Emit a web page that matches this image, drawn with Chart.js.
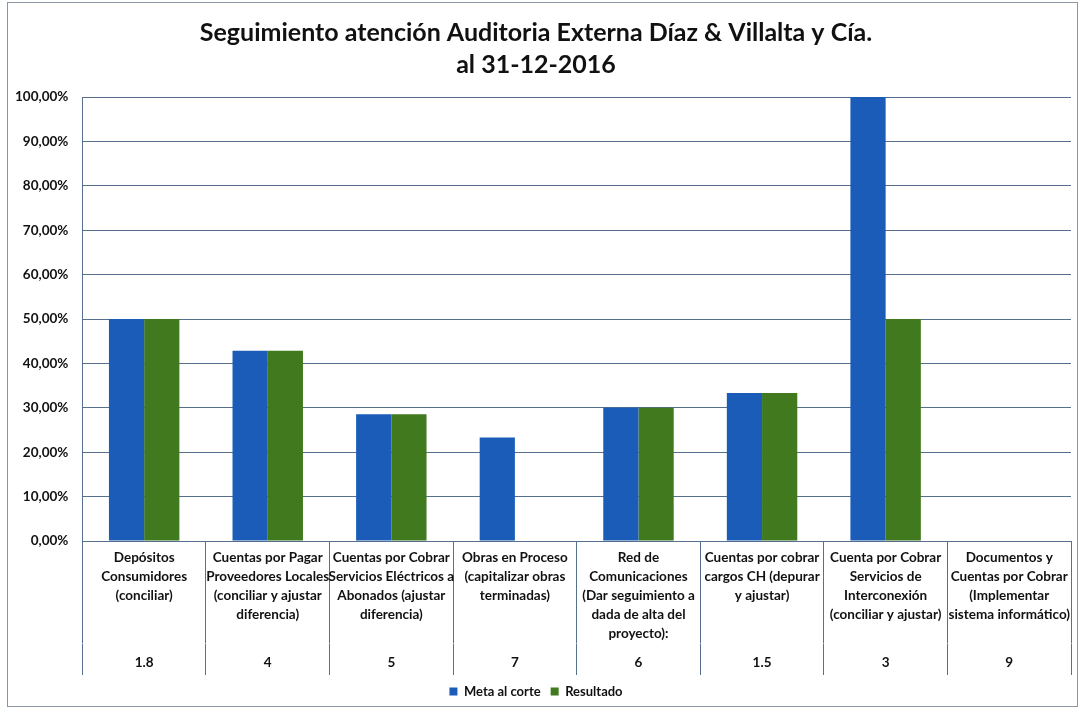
<!DOCTYPE html>
<html>
<head>
<meta charset="utf-8">
<script src="https://cdn.jsdelivr.net/npm/chart.js@4"></script>
<style>
  html, body { margin: 0; padding: 0; background: #fff; }
  #wrap { width: 1081px; height: 709px; }
</style>
</head>
<body>
<div id="wrap"><canvas id="chartCanvas" width="1081" height="709"></canvas></div>
<script>
const titleLines = ['Seguimiento atención Auditoria Externa Díaz & Villalta y Cía.', 'al 31-12-2016'];

const categories = [
    ['Depósitos', 'Consumidores', '(conciliar)'],
    ['Cuentas por Pagar', 'Proveedores Locales', '(conciliar y ajustar', 'diferencia)'],
    ['Cuentas por Cobrar', 'Servicios Eléctricos a', 'Abonados (ajustar', 'diferencia)'],
    ['Obras en Proceso', '(capitalizar obras', 'terminadas)'],
    ['Red de', 'Comunicaciones', '(Dar seguimiento a', 'dada de alta del', 'proyecto):'],
    ['Cuentas por cobrar', 'cargos CH (depurar', 'y ajustar)'],
    ['Cuenta por Cobrar', 'Servicios de', 'Interconexión', '(conciliar y ajustar)'],
    ['Documentos y', 'Cuentas por Cobrar', '(Implementar', 'sistema informático)'],
];

const codes = ['1.8', '4', '5', '7', '6', '1.5', '3', '9'];

const metaAlCorte = [50, 42.86, 28.57, 23.33, 30, 33.33, 100, 0];
const resultado = [50, 42.86, 28.57, 0, 30, 33.33, 50, 0];

const yTicks = [0, 10, 20, 30, 40, 50, 60, 70, 80, 90, 100];

const blue = '#1a5cb8';
const green = '#41791f';
const gridColor = '#566f8c';
const font = 'Lato, "Open Sans", sans-serif';

// Chart.js counts tick padding twice in the axis height, so the labels get
// blank lines at the end; that way the tick marks can run down through them.
const catLines = 10;
const paddedCats = categories.map(c => c.concat(Array(catLines - c.length).fill('')));
const paddedCodes = codes.map(c => [c, '']);

const framePlugin = {
    id: 'frame',
    afterDraw(chart) {
        const ctx = chart.ctx;
        ctx.save();
        ctx.strokeStyle = '#8a96a3';
        ctx.lineWidth = 1;
        ctx.strokeRect(7.5, 2.5, chart.width - 11, chart.height - 5);
        ctx.restore();
    },
};

new Chart(document.getElementById('chartCanvas'), {
    type: 'bar',
    data: {
        labels: paddedCats,
        datasets: [
            {
                label: 'Meta al corte',
                data: metaAlCorte,
                backgroundColor: blue,
                barPercentage: 1,
                categoryPercentage: 0.57,
            },
            {
                label: 'Resultado',
                data: resultado,
                backgroundColor: green,
                barPercentage: 1,
                categoryPercentage: 0.57,
            },
        ],
    },
    options: {
        responsive: false,
        animation: false,
        layout: {
            padding: { left: 1, right: 10, top: 0, bottom: 1 },
        },
        plugins: {
            title: {
                display: true,
                text: titleLines,
                color: '#111',
                font: { family: font, size: 25, weight: 'bold', lineHeight: '32px' },
                padding: { top: 17, bottom: 16 },
            },
            legend: {
                position: 'bottom',
                labels: {
                    color: '#111',
                    font: { family: font, size: 13, weight: 'bold' },
                    boxWidth: 8,
                    boxHeight: 8,
                    padding: 10,
                },
            },
            tooltip: { enabled: false },
        },
        scales: {
            x: {
                type: 'category',
                offset: true,
                border: { display: true, color: gridColor },
                grid: {
                    display: true,
                    offset: true,
                    drawOnChartArea: false,
                    drawTicks: true,
                    tickLength: 102.5,
                    color: gridColor,
                },
                ticks: {
                    autoSkip: false,
                    maxRotation: 0,
                    padding: -95,
                    color: '#111',
                    font: { family: font, size: 13.5, weight: 'bold', lineHeight: '19px' },
                },
            },
            x2: {
                type: 'category',
                position: 'bottom',
                weight: 1,
                labels: paddedCodes,
                offset: true,
                border: { display: false },
                grid: {
                    display: true,
                    offset: true,
                    drawOnChartArea: false,
                    drawTicks: true,
                    tickLength: 31.5,
                    color: gridColor,
                },
                ticks: {
                    autoSkip: false,
                    maxRotation: 0,
                    padding: -24,
                    color: '#111',
                    font: { family: font, size: 13.5, weight: 'bold', lineHeight: '24px' },
                },
            },
            y: {
                min: 0,
                max: 100,
                afterBuildTicks(scale) {
                    scale.ticks = yTicks.map(v => ({ value: v }));
                },
                border: { display: true, color: gridColor },
                grid: {
                    color: gridColor,
                    drawTicks: false,
                },
                ticks: {
                    padding: 14,
                    color: '#111',
                    font: { family: font, size: 13.5, weight: 'bold' },
                    callback: v => v.toFixed(2).replace('.', ',') + '%',
                },
            },
        },
    },
    plugins: [framePlugin],
});
</script>
</body>
</html>
